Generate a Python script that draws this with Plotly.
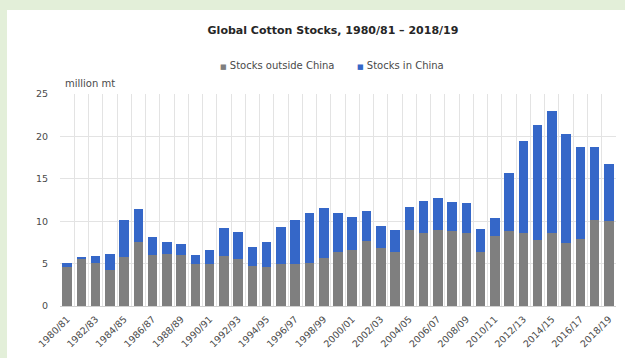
import plotly.graph_objects as go

# Marketing years 1980/81 .. 2018/19
seasons = [f"{y}/{(y + 1) % 100:02d}" for y in range(1980, 2019)]

# Ending stocks, million metric tonnes
stocks_outside_china = [
    4.6, 5.5, 5.1, 4.3, 5.8, 7.6, 6.0, 6.1, 6.0, 5.0,
    5.0, 5.9, 5.5, 4.7, 4.6, 4.9, 5.0, 5.1, 5.7, 6.4,
    6.6, 7.7, 6.8, 6.4, 9.0, 8.6, 9.0, 8.8, 8.6, 6.4,
    8.2, 8.8, 8.6, 7.8, 8.6, 7.4, 7.9, 10.1, 10.0,
]
stocks_in_china = [
    0.5, 0.3, 0.8, 1.8, 4.4, 3.8, 2.1, 1.5, 1.3, 1.0,
    1.6, 3.3, 3.2, 2.3, 3.0, 4.4, 5.2, 5.9, 5.8, 4.6,
    3.9, 3.5, 2.6, 2.6, 2.7, 3.8, 3.7, 3.5, 3.5, 2.7,
    2.2, 6.9, 10.8, 13.5, 14.4, 12.9, 10.8, 8.6, 6.8,
]

series_names = ["Stocks outside China", "Stocks in China"]
y_ticks = [0, 5, 10, 15, 20, 25]

GREY = "#7f7f7f"
BLUE = "#3567c8"
TEXT = "#4a4a4a"
GRID = "#e3e3e3"
FONT = "DejaVu Sans, Verdana, sans-serif"

W, H = 625, 358
L, R, T, B = 60, 9, 94, 52
PW, PH = W - L - R, H - T - B
xpos = list(range(len(seasons)))


def px_to_paper_x(px):
    return (px - L) / PW


def px_to_paper_y(py):
    return (H - B - py) / PH


fig = go.Figure()
fig.add_trace(go.Bar(x=xpos, y=stocks_outside_china, name=series_names[0],
                     marker=dict(color=GREY, line=dict(width=0))))
fig.add_trace(go.Bar(x=xpos, y=stocks_in_china, name=series_names[1],
                     marker=dict(color=BLUE, line=dict(width=0))))

# compact legend: small square swatch right before each label
legend_items = []
for name, color, left in zip(series_names, [GREY, BLUE], [218, 355]):
    legend_items.append(dict(
        text=f"<span style='color:{color};font-size:7px'>■</span> {name}",
        xref="paper", yref="paper", x=px_to_paper_x(left), y=px_to_paper_y(65),
        xanchor="left", yanchor="middle", showarrow=False,
        font=dict(size=10, color=TEXT)))

fig.update_layout(
    width=W, height=H,
    barmode="stack", bargap=0.33,
    paper_bgcolor="#e3efd9",
    plot_bgcolor="rgba(0,0,0,0)",
    margin=dict(l=L, r=R, t=T, b=B, pad=0),
    font=dict(family=FONT, size=9, color=TEXT),
    showlegend=False,
    title=dict(text="<b>Global Cotton Stocks, 1980/81 – 2018/19</b>",
               x=px_to_paper_x(333), xref="paper", xanchor="center",
               y=1 - 30 / H, yref="container", yanchor="middle",
               font=dict(size=11, color="#262626")),
    # white card sitting on the pale green page
    shapes=[dict(type="rect", xref="paper", yref="paper",
                 x0=px_to_paper_x(7), x1=px_to_paper_x(W + 5),
                 y0=px_to_paper_y(H + 5), y1=px_to_paper_y(10),
                 fillcolor="white", line=dict(width=0), layer="below")],
    annotations=legend_items + [
        dict(text="million mt", xref="paper", yref="paper",
             x=px_to_paper_x(63), y=px_to_paper_y(84),
             xanchor="left", yanchor="middle",
             showarrow=False, font=dict(size=10, color=TEXT))],
)

fig.update_xaxes(
    range=[-0.5, len(seasons) - 0.5],
    tickmode="array", tickvals=xpos[::2], ticktext=seasons[::2],
    tickangle=-45, tickfont=dict(size=9.5, color=TEXT), ticklabelstandoff=3,
    showgrid=False, zeroline=False, showline=True, linecolor="#d0d0d0",
    ticks="",
    minor=dict(tickmode="array", tickvals=[i - 0.5 for i in range(len(seasons) + 1)],
               showgrid=True, gridcolor=GRID, gridwidth=1, ticks=""),
)
fig.update_yaxes(
    range=[0, 25], tickvals=y_ticks, tickfont=dict(size=9.5, color=TEXT),
    showgrid=True, gridcolor=GRID, gridwidth=1, zeroline=False,
    ticks="", ticklabelstandoff=11, showline=False,
)

fig.write_html("out.html")
